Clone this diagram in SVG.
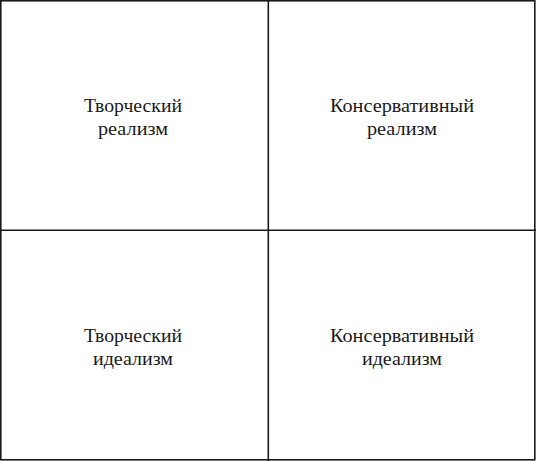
<svg xmlns="http://www.w3.org/2000/svg" width="536" height="461" viewBox="0 0 536 461">
<style>
.ln{stroke:#1a1a1a;stroke-width:1.6;fill:none}
.t{font-family:"Liberation Serif","Times New Roman",serif;font-size:19px;fill:#1a1a1a;text-anchor:middle}
</style>
<rect width="536" height="461" fill="#fff"/>
<g id="connectors">
<rect class="ln" x="0.8" y="0.8" width="534" height="459"/>
<line class="ln" x1="268.3" y1="0" x2="268.3" y2="461"/>
<line class="ln" x1="0" y1="230.3" x2="536" y2="230.3"/>
</g>
<g id="n1"><text class="t" x="133" y="112" textLength="98" lengthAdjust="spacingAndGlyphs">Творческий</text><text class="t" x="133" y="134.5" textLength="70" lengthAdjust="spacingAndGlyphs">реализм</text></g>
<g id="n2"><text class="t" x="402" y="112" textLength="144" lengthAdjust="spacingAndGlyphs">Консервативный</text><text class="t" x="402" y="134.5" textLength="70" lengthAdjust="spacingAndGlyphs">реализм</text></g>
<g id="n3"><text class="t" x="133" y="342" textLength="98" lengthAdjust="spacingAndGlyphs">Творческий</text><text class="t" x="133" y="364.5" textLength="80" lengthAdjust="spacingAndGlyphs">идеализм</text></g>
<g id="n4"><text class="t" x="402" y="342" textLength="144" lengthAdjust="spacingAndGlyphs">Консервативный</text><text class="t" x="402" y="364.5" textLength="80" lengthAdjust="spacingAndGlyphs">идеализм</text></g>
</svg>
